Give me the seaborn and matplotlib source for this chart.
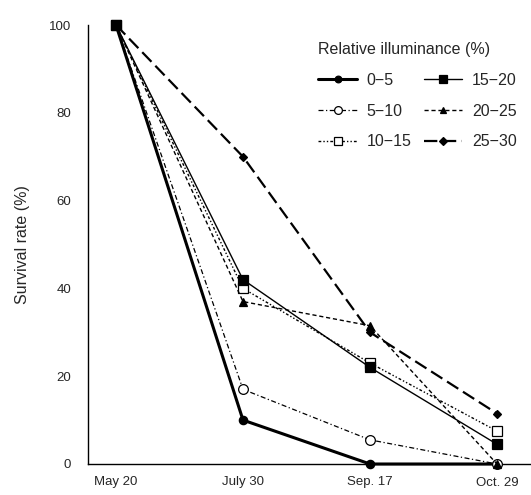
import matplotlib
matplotlib.use("Agg")
import matplotlib.pyplot as plt
import seaborn as sns
import pandas as pd

sns.set_style("white")
plt.rcParams['font.family'] = ['Liberation Sans Narrow', 'Liberation Sans', 'DejaVu Sans']

dates = ["May 20", "July 30", "Sep. 17", "Oct. 29"]
groups = ["0\u22125", "5\u221210", "10\u221215", "15\u221220", "20\u221225", "25\u221230"]
s_0_5 = [100, 10, 0, 0]
s_5_10 = [100, 17, 5.5, 0]
s_10_15 = [100, 40, 23, 7.5]
s_15_20 = [100, 42, 22, 4.5]
s_20_25 = [100, 37, 31.5, 0]
s_25_30 = [100, 70, 30, 11.5]
values = [s_0_5, s_5_10, s_10_15, s_15_20, s_20_25, s_25_30]

styles = [
    dict(ls="-", lw=2.2, marker="o", ms=6, mfc="black"),
    dict(ls=(0, (4, 2, 1, 2)), lw=0.9, marker="o", ms=7, mfc="white"),
    dict(ls=(0, (2, 1.5, 1, 1.5, 1, 1.5)), lw=1.0, marker="s", ms=7, mfc="white"),
    dict(ls="-", lw=1.0, marker="s", ms=7, mfc="black"),
    dict(ls=(0, (3, 2)), lw=1.0, marker="^", ms=6, mfc="black"),
    dict(ls=(0, (6, 2.5)), lw=1.6, marker="D", ms=4.5, mfc="black"),
]

fig = plt.figure(figsize=(5.31, 4.95), dpi=100)
ax = fig.add_axes([88 / 531, 1 - 464 / 495, 1 - 88 / 531, (464 - 25) / 495])

xpos = list(range(len(dates)))
for name, vals, st in zip(groups, values, styles):
    df = pd.DataFrame({"x": xpos, "y": vals})
    sns.lineplot(data=df, x="x", y="y", ax=ax, color="black",
                 linestyle=st["ls"], linewidth=st["lw"], marker=st["marker"],
                 markersize=st["ms"], markerfacecolor=st["mfc"],
                 markeredgecolor="black", markeredgewidth=0.9,
                 label=name, clip_on=False, zorder=3)

ax.set_xlim(-28 / 127, 3 + 34 / 127)
ax.set_ylim(0, 100)
ax.set_xticks(xpos)
ax.set_xticklabels(dates, fontsize=9.5)
ax.set_yticks([0, 20, 40, 60, 80, 100])
ax.set_yticklabels(["0", "20", "40", "60", "80", "100"], fontsize=9.5)
ax.tick_params(axis="both", direction="in", length=8, width=0.9, color="black")
ax.tick_params(axis="x", pad=9)
ax.tick_params(axis="y", pad=12)
ax.set_xlabel("")
ax.set_ylabel("Survival rate (%)", fontsize=11.5, labelpad=14)

for side in ("top", "right"):
    ax.spines[side].set_visible(False)
for side in ("left", "bottom"):
    ax.spines[side].set_color("black")
    ax.spines[side].set_linewidth(1.0)

leg = ax.legend(title="Relative illuminance (%)", ncol=2, frameon=False,
                loc="upper right", bbox_to_anchor=(1.0, 0.995),
                fontsize=11.5, title_fontsize=11.5, handlelength=2.4,
                columnspacing=0.8, labelspacing=1.0, handletextpad=0.6,
                markerscale=0.8)
leg._legend_box.align = "left"

fig.savefig("out.png", dpi=100)
